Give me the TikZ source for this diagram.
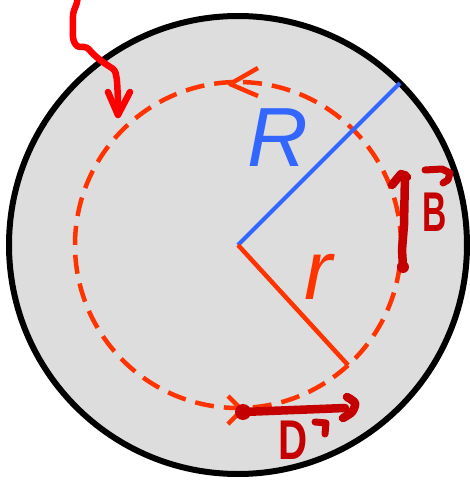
\documentclass[tikz,border=0pt]{standalone}
\usepackage{fontspec}
\newfontfamily\sansfont{Liberation Sans}
\usetikzlibrary{arrows.meta}
\definecolor{disc}{HTML}{DDDDDD}
\definecolor{Rblue}{HTML}{3366FF}
\definecolor{rred}{HTML}{FF3300}
\definecolor{inkred}{HTML}{C40000}
\definecolor{penred}{HTML}{FF0000}

\begin{document}
\begin{tikzpicture}[x=1pt, y=1pt, line join=round,
  ink/.style={draw=inkred, line width=8.5pt, line cap=round},
  chevron/.style={draw=rred, line width=4.5pt},
  biglbl/.style={font=\sansfont\itshape\fontsize{84}{84}\selectfont, inner sep=0pt},
  handlbl/.style={font=\sansfont\bfseries\fontsize{56}{56}\selectfont, text=inkred, inner sep=0pt}]
\useasboundingbox (-238,-237) rectangle (231,245);
\coordinate (O) at (0,0);
\coordinate (Rtip) at (45:229pt);
\coordinate (rtip) at (-47.5:163pt);
% disc and dashed loop
\filldraw[fill=disc, line width=6pt] (O) circle (229pt);
\draw[rred, line width=4.5pt, dash pattern=on 19pt off 10pt] (O) circle (163pt);
\draw[chevron] (20,177) -- (-8,161) -- (20,149);
\draw[chevron] (-10,-151) -- (4,-165) -- (-10,-179);
% radii
\draw[Rblue, line width=4pt] (O) -- (Rtip);
\draw[rred, line width=4.5pt] (O) -- (rtip);
\node[biglbl, text=Rblue] (Rlbl) at (40,107) {R};
\node[biglbl, text=rred] (rlbl) at (80,-32) {r};
% pen arrow from above
\draw[penred, line width=6.5pt, line cap=round, rounded corners=3pt] (-160,250) -- (-161,242) -- (-165,232) -- (-165,205) -- (-161,198) -- (-151,198) -- (-146,192) -- (-138,185) -- (-131,180) -- (-123,175) -- (-121,165) -- (-120,145) -- (-120,130);
\draw[penred, line width=6.5pt, line cap=round] (-130,153) -- (-120,130) -- (-108,153);
% B field, hand drawn
\node[handlbl] (Blbl) at (197,33) {\scalebox{0.6}[1]{B}};
\fill[inkred] (165,-22) circle (6pt);
\draw[ink] (165,-22) -- (164,-5) -- (166,20) -- (167,70);
\draw[ink] (154,60) -- (163,71) -- (169,68);
\draw[ink, line width=7pt] (187,75) -- (204,76) -- (212,72) -- (210,65) -- (205,62);
% D field, hand drawn
\node[handlbl] (Dlbl) at (55,-195) {\scalebox{0.72}[1]{D}};
\fill[inkred] (5,-167) circle (8pt);
\draw[ink] (5,-167) -- (107,-163);
\draw[ink] plot[smooth] coordinates {(109,-152) (117,-158) (114,-167) (105,-173)};
\draw[ink, line width=7pt] (77,-177) -- (88,-178) -- (87,-189);
\end{tikzpicture}
\end{document}
